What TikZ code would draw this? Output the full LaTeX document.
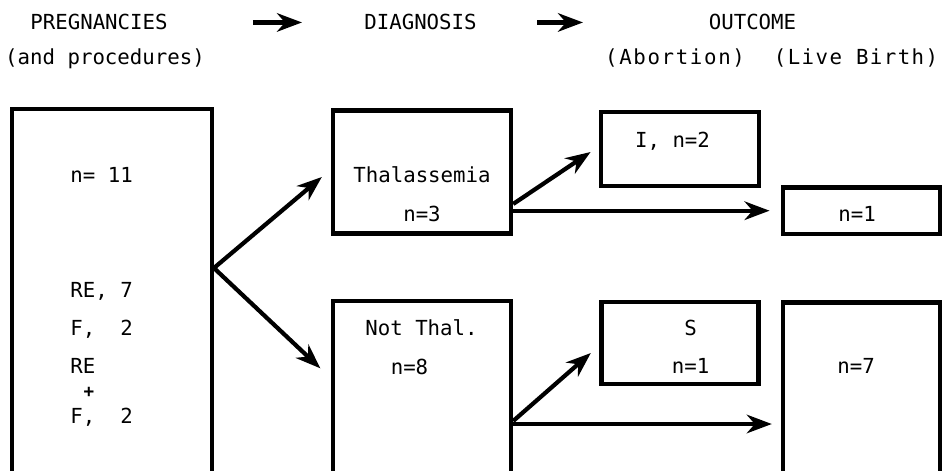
\documentclass[tikz,border=0pt]{standalone}
\usepackage{fontspec}
\newfontfamily\typefont{DejaVu Sans Mono}
\usetikzlibrary{arrows.meta, positioning}
\tikzset{
  box/.style={draw=black, line width=2.5pt, inner sep=0pt},
  txt/.style={inner sep=0pt, anchor=base, font=\fontsize{11.8}{14}\typefont\frenchspacing},
  lft/.style={txt, anchor=base west},
  flow/.style={-{Stealth[length=5mm, width=3.7mm, inset=1.6mm]}, line width=2.4pt}
}

\begin{document}
\begin{tikzpicture}[x=0.02cm, y=-0.02cm]
\useasboundingbox (0,0) rectangle (942,470);

%% Column headings
\node[txt] (hpreg) at (99,30) {PREGNANCIES};
\node[txt] (hproc) at (105,64) {(and procedures)};
\node[txt] (hdiag) at (420.5,30) {DIAGNOSIS};
\node[txt] (hout) at (752.5,30) {OUTCOME};
\node[txt] (habrt) at (675,64) {\addfontfeature{LetterSpace=8}(Abortion)};
\node[txt] (hlive) at (856,64) {\addfontfeature{LetterSpace=7}(Live Birth)};

\draw[flow, shorten <=1.7cm, shorten >=1.24cm] (hpreg) -- (hdiag);
\draw[flow, shorten <=1.2cm, shorten >=2.51cm] (hdiag) -- (hout);

%% Boxes
\node[box, minimum width=3.99cm, minimum height=8.44cm] (preg) at (112,320) {};
\node[box, minimum width=3.56cm, minimum height=2.46cm] (thal) at (422,172) {};
\node[box, minimum width=3.56cm, minimum height=4.8cm] (notthal) at (422,421) {};
\node[box, minimum width=3.15cm, minimum height=1.47cm] (abrt1) at (680,149) {};
\node[box, minimum width=3.13cm, minimum height=0.93cm] (live1) at (861.5,210.7) {};
\node[box, minimum width=3.14cm, minimum height=1.65cm] (abrt2) at (680,343) {};
\node[box, minimum width=3.14cm, minimum height=4.86cm] (live2) at (861.5,424) {};

%% Pregnancies
\node[lft] (n11) at (70,182) {n=\ 11};
\node[lft] (re7) at (70,297) {RE,\ 7};
\node[lft] (f2a) at (70,335) {F,\ \ 2};
\node[lft] (re) at (70,373) {RE};
\node[inner sep=0pt, font=\fontsize{10}{11}\typefont\bfseries] (plus) at (89,392) {+};
\node[lft] (f2b) at (70,423) {F,\ \ 2};

%% Diagnosis
\node[txt] (thalname) at (422,182) {Thalassemia};
\node[txt] (thaln) at (422,221) {n=3};
\node[txt] (notname) at (421.5,335.5) {Not Thal.};
\node[txt] (notn) at (409.5,374) {n=8};

%% Outcome
\node[txt] (abrt1n) at (672.5,147) {I, n=2};
\node[txt] (live1n) at (857,221.5) {n=1};
\node[txt] (abrt2s) at (690.5,335) {S};
\node[txt] (abrt2n) at (690.5,373) {n=1};
\node[txt] (live2n) at (856,373) {n=7};

%% Arrows
\coordinate (fork) at ([yshift=1.04cm]preg.east);
\draw[flow] (fork) -- ([xshift=-0.18cm, yshift=-0.1cm]thal.west);
\draw[flow] (fork) -- ([xshift=-0.21cm, yshift=-1.39cm]notthal.north west);

\draw[flow] ([yshift=-0.64cm]thal.east) -- ([xshift=-0.17cm, yshift=-0.06cm]abrt1.west);
\draw[flow, shorten >=0.23cm] (thal.east |- live1.west) -- (live1.west);

\draw[flow] (notthal.east) -- ([xshift=-0.17cm, yshift=-0.2cm]abrt2.west);
\draw[flow, shorten >=0.18cm] (notthal.east |- live2.west) -- (live2.west);

\end{tikzpicture}
\end{document}
